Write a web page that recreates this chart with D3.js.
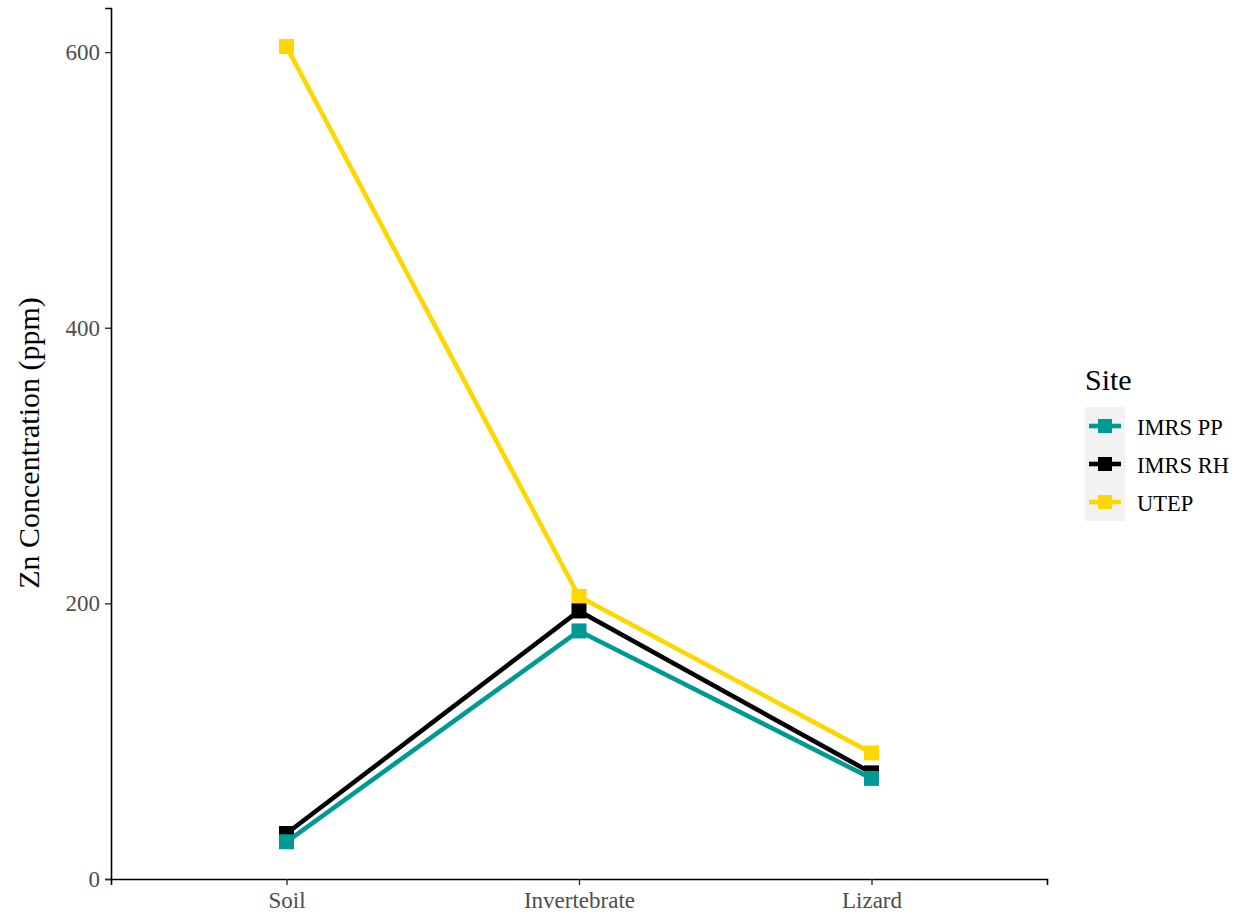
<!DOCTYPE html>
<html>
<head>
<meta charset="utf-8">
<script src="https://cdn.jsdelivr.net/npm/d3@7"></script>
<style>
  html, body { margin: 0; padding: 0; background: #ffffff; }
  svg text { font-family: "Liberation Serif", "Times New Roman", serif; }
</style>
</head>
<body>
<svg id="chart" width="1247" height="915"></svg>
<script>
// Tissue categories along the x axis
const categories = ["Soil", "Invertebrate", "Lizard"];

// Zn concentration (ppm) per site, in category order
const imrsPP = [27, 180, 73];
const imrsRH = [33, 194.5, 77];
const utep   = [604, 205, 91.5];

const siteNames  = ["IMRS PP", "IMRS RH", "UTEP"];
const siteColors = ["#009a96", "#000000", "#ffd700"];
const yTicks = [0, 200, 400, 600];

const series = [
  { name: siteNames[0], color: siteColors[0], values: imrsPP },
  { name: siteNames[1], color: siteColors[1], values: imrsRH },
  { name: siteNames[2], color: siteColors[2], values: utep }
];

const svg = d3.select("#chart");
const plot = { left: 111, right: 1047, top: 8, bottom: 879 };

// Discrete x scale with ggplot-style 0.6 unit padding on each side
const x = d3.scalePoint()
  .domain(categories)
  .range([plot.left, plot.right])
  .padding(0.6);

const y = d3.scaleLinear()
  .domain([0, 632])
  .range([plot.bottom, plot.top]);

// Axes
const xAxis = svg.append("g")
  .attr("transform", `translate(0,${plot.bottom})`)
  .call(d3.axisBottom(x).tickSizeOuter(0).tickSize(6).tickPadding(5));
const yAxis = svg.append("g")
  .attr("transform", `translate(${plot.left},0)`)
  .call(d3.axisLeft(y).tickValues(yTicks).tickSizeOuter(0).tickSize(6).tickPadding(5));

[xAxis, yAxis].forEach(g => {
  g.select(".domain").attr("stroke", "#000").attr("stroke-width", 1.6);
  g.selectAll(".tick line").attr("stroke", "#333").attr("stroke-width", 1.4);
  g.selectAll(".tick text")
    .attr("fill", "#4d4d4d")
    .style("font-family", "'Liberation Serif', serif")
    .style("font-size", "23px");
});
xAxis.selectAll(".tick text").attr("dy", "0.8em");
yAxis.selectAll(".tick text").attr("dy", "0.33em");

// Y axis title
svg.append("text")
  .attr("transform", `translate(32,443) rotate(-90)`)
  .attr("text-anchor", "middle")
  .attr("dominant-baseline", "middle")
  .style("font-size", "30px")
  .attr("fill", "#000")
  .text("Zn Concentration (ppm)");

// Lines
const line = d3.line()
  .x((d, i) => x(categories[i]))
  .y(d => y(d));

const drawOrder = [2, 1, 0];
drawOrder.forEach(k => {
  const s = series[k];
  svg.append("path")
    .datum(s.values)
    .attr("fill", "none")
    .attr("stroke", s.color)
    .attr("stroke-width", 4.6)
    .attr("stroke-linejoin", "round")
    .attr("d", line);
});

// Square markers
const sq = 15;
drawOrder.forEach(k => {
  const s = series[k];
  svg.append("g").selectAll("rect")
    .data(s.values)
    .join("rect")
    .attr("x", (d, i) => x(categories[i]) - sq / 2)
    .attr("y", d => y(d) - sq / 2)
    .attr("width", sq)
    .attr("height", sq)
    .attr("fill", s.color);
});

// Legend
const legend = svg.append("g").attr("transform", "translate(1085,0)");
legend.append("text")
  .attr("x", 0).attr("y", 390)
  .style("font-size", "30px")
  .attr("fill", "#000")
  .text("Site");

const keyTop = 407, keyH = 38, keyW = 40;
legend.append("rect")
  .attr("x", 0).attr("y", keyTop)
  .attr("width", keyW).attr("height", keyH * series.length)
  .attr("fill", "#f2f2f2");

series.forEach((s, i) => {
  const cy = keyTop + keyH * i + keyH / 2;
  legend.append("line")
    .attr("x1", 4).attr("x2", keyW - 4)
    .attr("y1", cy).attr("y2", cy)
    .attr("stroke", s.color)
    .attr("stroke-width", 4.6);
  legend.append("rect")
    .attr("x", keyW / 2 - 7).attr("y", cy - 7)
    .attr("width", 14).attr("height", 14)
    .attr("fill", s.color);
  legend.append("text")
    .attr("x", 52).attr("y", cy + 1)
    .attr("dy", "0.35em")
    .style("font-size", "22.5px")
    .attr("fill", "#000")
    .text(s.name);
});
</script>
</body>
</html>
